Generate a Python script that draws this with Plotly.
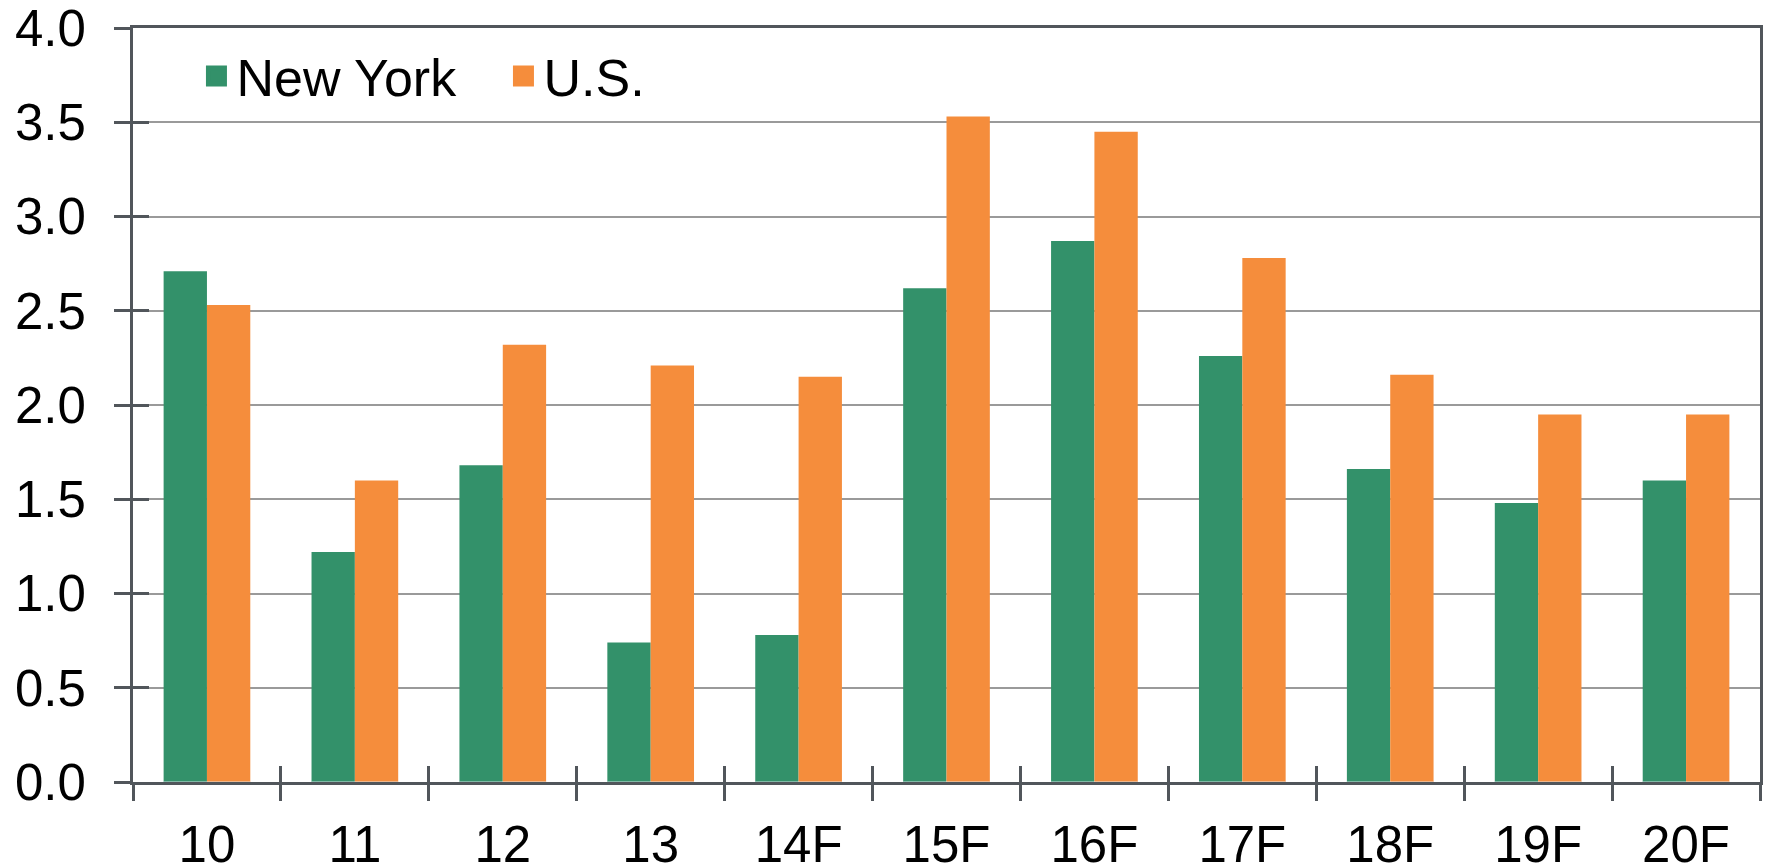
import plotly.graph_objects as go

categories = ["10", "11", "12", "13", "14F", "15F", "16F", "17F", "18F", "19F", "20F"]
new_york = [2.71, 1.22, 1.68, 0.74, 0.78, 2.62, 2.87, 2.26, 1.66, 1.48, 1.60]
us = [2.53, 1.60, 2.32, 2.21, 2.15, 3.53, 3.45, 2.78, 2.16, 1.95, 1.95]
y_ticks = [0.0, 0.5, 1.0, 1.5, 2.0, 2.5, 3.0, 3.5, 4.0]
y_tick_labels = ["0.0", "0.5", "1.0", "1.5", "2.0", "2.5", "3.0", "3.5", "4.0"]

GREEN = "#33916A"
ORANGE = "#F58D3C"
AXIS = "#51565B"
GRID = "#9A9A9A"
FONT = "Liberation Sans, Arial, sans-serif"

fig = go.Figure()
fig.add_trace(go.Bar(x=categories, y=new_york, name="New York", marker=dict(color=GREEN, line=dict(width=0)),
                     showlegend=False))
fig.add_trace(go.Bar(x=categories, y=us, name="U.S.", marker=dict(color=ORANGE, line=dict(width=0)),
                     showlegend=False))
# legend entries
fig.add_trace(go.Scatter(x=[None], y=[None], mode="markers", name="New York",
                         marker=dict(symbol="square", size=16, color=GREEN, line=dict(width=5, color=GREEN))))
fig.add_trace(go.Scatter(x=[None], y=[None], mode="markers", name="U.S.",
                         marker=dict(symbol="square", size=16, color=ORANGE, line=dict(width=5, color=ORANGE))))
# overlay axes for the inner half of the crossing tick marks
fig.add_trace(go.Bar(x=categories, y=[0] * len(categories), xaxis="x2", yaxis="y2",
                     showlegend=False, hoverinfo="skip", marker=dict(color="rgba(0,0,0,0)")))

fig.update_layout(
    width=1768, height=868,
    margin=dict(l=133, r=8, t=28, b=86),
    paper_bgcolor="white", plot_bgcolor="white",
    font=dict(family=FONT, size=51, color="black"),
    barmode="group", bargap=0.414, bargroupgap=0,
    showlegend=True,
    legend=dict(orientation="h", x=0.039, y=0.936, xanchor="left", yanchor="middle",
                font=dict(family=FONT, size=52, color="black"),
                bgcolor="rgba(0,0,0,0)", itemsizing="trace", tracegroupgap=0,
                entrywidth=262, entrywidthmode="pixels"),
    xaxis=dict(type="category", categoryorder="array", categoryarray=categories,
               showline=True, linecolor=AXIS, linewidth=3, mirror=True, automargin=False,
               ticks="outside", tickson="boundaries", ticklen=16, tickwidth=3, tickcolor=AXIS,
               showgrid=False, zeroline=False, ticklabelstandoff=16, ticklabeloverflow="allow",
               tickfont=dict(family=FONT, size=51, color="black")),
    yaxis=dict(range=[0, 4.0], tickvals=y_ticks, ticktext=y_tick_labels,
               showline=True, linecolor=AXIS, linewidth=3, mirror=True, automargin=False,
               ticks="outside", ticklen=16, tickwidth=3, tickcolor=AXIS,
               showgrid=True, gridcolor=GRID, gridwidth=2, zeroline=False,
               ticklabelstandoff=18, ticklabeloverflow="allow",
               tickfont=dict(family=FONT, size=51, color="black")),
    xaxis2=dict(type="category", categoryorder="array", categoryarray=categories,
                overlaying="x", matches="x", ticks="inside", tickson="boundaries", ticklen=16,
                tickwidth=3, tickcolor=AXIS, showticklabels=False, showgrid=False,
                showline=False, zeroline=False, automargin=False),
    yaxis2=dict(range=[0, 4.0], tickvals=y_ticks, overlaying="y", side="left",
                ticks="inside", ticklen=16, tickwidth=3, tickcolor=AXIS, automargin=False,
                showticklabels=False, showgrid=False, showline=False, zeroline=False),
)

fig.write_html("out.html", config={"displayModeBar": False},
               post_script="document.body.style.margin='0';document.body.style.overflow='hidden';")
